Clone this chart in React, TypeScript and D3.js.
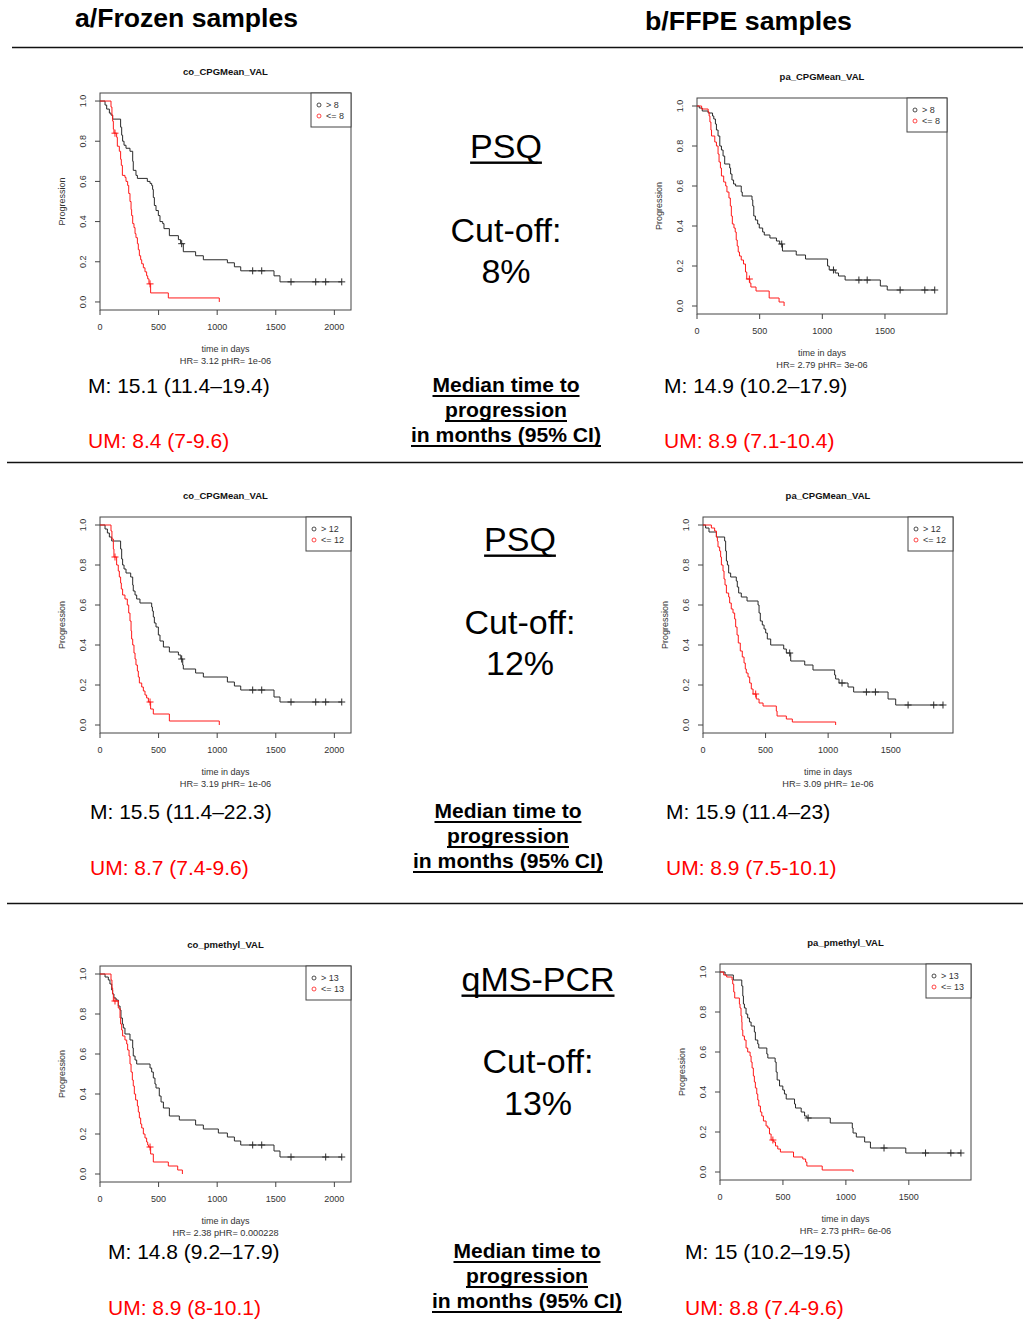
import React from "react";
import * as d3 from "d3";

type Pt = [number, number];

// ---------- Data: step drops [day, survival] and censor marks ----------
// Panel a / PSQ cut-off 8 (frozen)
const p1High: Pt[] = [[43,0.98],[57,0.96],[80,0.94],[94,0.93],[108,0.91],[176,0.87],[185,0.83],[193,0.80],[205,0.78],[222,0.765],[256,0.75],[279,0.70],[284,0.655],[307,0.63],[319,0.615],[404,0.60],[427,0.59],[441,0.58],[449,0.56],[455,0.52],[464,0.48],[478,0.455],[498,0.43],[512,0.40],[535,0.39],[546,0.365],[592,0.33],[669,0.31],[688,0.29],[711,0.25],[816,0.23],[882,0.21],[1087,0.195],[1147,0.175],[1201,0.155],[1485,0.13],[1536,0.10]];
const p1HighCens: Pt[] = [[697,0.29],[1303,0.155],[1380,0.155],[1630,0.10],[1841,0.10],[1926,0.10],[2063,0.10]];
const p1Low: Pt[] = [[94,0.97],[102,0.93],[108,0.90],[114,0.86],[119,0.84],[142,0.82],[148,0.775],[165,0.75],[176,0.71],[182,0.68],[191,0.63],[213,0.62],[222,0.60],[236,0.58],[245,0.54],[256,0.50],[265,0.46],[270,0.43],[279,0.39],[290,0.37],[299,0.34],[307,0.32],[319,0.29],[327,0.26],[336,0.23],[347,0.21],[356,0.19],[370,0.17],[384,0.15],[398,0.13],[407,0.115],[418,0.09],[432,0.045],[583,0.02],[1018,0.0]];
const p1LowCens: Pt[] = [[128,0.84],[427,0.09]];

// Panel b / PSQ cut-off 8 (FFPE)
const p2High: Pt[] = [[18,0.99],[42,0.975],[89,0.965],[124,0.95],[134,0.935],[147,0.91],[155,0.88],[168,0.85],[182,0.80],[195,0.78],[208,0.75],[221,0.71],[261,0.69],[268,0.66],[279,0.63],[292,0.61],[308,0.60],[353,0.57],[361,0.55],[439,0.53],[445,0.50],[453,0.45],[466,0.43],[484,0.41],[497,0.39],[524,0.37],[537,0.355],[582,0.34],[634,0.325],[660,0.31],[682,0.275],[792,0.255],[866,0.235],[1042,0.20],[1055,0.18],[1103,0.165],[1129,0.15],[1182,0.13],[1463,0.10],[1518,0.08]];
const p2HighCens: Pt[] = [[676,0.31],[1089,0.18],[1292,0.13],[1358,0.13],[1621,0.08],[1818,0.08],[1897,0.08]];
const p2Low: Pt[] = [[37,0.985],[89,0.97],[97,0.95],[103,0.92],[111,0.88],[116,0.85],[142,0.82],[155,0.80],[168,0.76],[176,0.72],[187,0.69],[195,0.65],[213,0.62],[229,0.60],[239,0.57],[255,0.54],[266,0.50],[274,0.45],[282,0.41],[295,0.39],[305,0.37],[313,0.33],[321,0.30],[329,0.27],[339,0.25],[353,0.23],[371,0.21],[387,0.17],[397,0.135],[421,0.115],[430,0.095],[471,0.075],[576,0.04],[655,0.02],[695,0.0]];
const p2LowCens: Pt[] = [[418,0.135]];

// Panel a / PSQ cut-off 12 (frozen)
const p3High: Pt[] = [[43,0.98],[63,0.96],[80,0.94],[100,0.92],[176,0.88],[185,0.83],[193,0.80],[205,0.78],[222,0.76],[262,0.74],[279,0.70],[284,0.67],[299,0.65],[313,0.63],[341,0.61],[441,0.59],[447,0.57],[455,0.54],[464,0.51],[478,0.49],[498,0.45],[512,0.42],[541,0.39],[592,0.365],[669,0.35],[690,0.33],[706,0.30],[711,0.28],[816,0.26],[882,0.24],[1087,0.215],[1147,0.195],[1201,0.175],[1485,0.14],[1536,0.115]];
const p3HighCens: Pt[] = [[697,0.33],[1303,0.175],[1380,0.175],[1630,0.115],[1841,0.115],[1926,0.115],[2063,0.115]];
const p3Low: Pt[] = [[94,0.97],[102,0.93],[114,0.88],[119,0.84],[142,0.80],[156,0.77],[165,0.74],[176,0.71],[182,0.68],[193,0.65],[213,0.63],[233,0.60],[245,0.56],[256,0.52],[265,0.47],[270,0.43],[279,0.40],[290,0.36],[299,0.33],[307,0.30],[319,0.27],[327,0.24],[336,0.21],[356,0.19],[370,0.17],[384,0.15],[398,0.135],[413,0.115],[432,0.08],[455,0.055],[592,0.02],[1018,0.0]];
const p3LowCens: Pt[] = [[128,0.84],[427,0.115]];

// Panel b / PSQ cut-off 12 (FFPE)
const p4High: Pt[] = [[21,0.985],[48,0.965],[107,0.94],[173,0.92],[181,0.87],[187,0.82],[195,0.80],[205,0.76],[221,0.74],[266,0.72],[274,0.69],[285,0.66],[306,0.64],[352,0.62],[440,0.60],[448,0.56],[458,0.52],[474,0.50],[488,0.48],[501,0.46],[514,0.43],[541,0.40],[645,0.38],[666,0.36],[701,0.32],[813,0.30],[879,0.275],[1052,0.25],[1060,0.23],[1087,0.21],[1159,0.19],[1204,0.165],[1479,0.13],[1540,0.10]];
const p4HighCens: Pt[] = [[693,0.36],[1111,0.21],[1306,0.165],[1378,0.165],[1639,0.10],[1844,0.10],[1918,0.10]];
const p4Low: Pt[] = [[67,0.985],[93,0.97],[107,0.94],[115,0.92],[120,0.89],[133,0.87],[141,0.84],[147,0.80],[160,0.77],[168,0.73],[176,0.70],[187,0.66],[205,0.64],[213,0.61],[226,0.58],[240,0.56],[253,0.53],[261,0.49],[272,0.45],[282,0.41],[298,0.37],[314,0.34],[328,0.31],[338,0.28],[346,0.26],[360,0.24],[373,0.21],[386,0.18],[400,0.155],[426,0.13],[448,0.11],[480,0.095],[586,0.07],[592,0.045],[666,0.03],[714,0.015],[1060,0.0]];
const p4LowCens: Pt[] = [[421,0.155]];

// Panel a / qMS-PCR cut-off 13 (frozen)
const p5High: Pt[] = [[43,0.985],[71,0.97],[85,0.95],[100,0.92],[108,0.90],[119,0.88],[137,0.87],[156,0.84],[171,0.82],[179,0.78],[191,0.75],[199,0.73],[213,0.70],[256,0.67],[279,0.63],[284,0.59],[299,0.57],[313,0.55],[427,0.53],[441,0.51],[455,0.48],[469,0.45],[478,0.43],[506,0.39],[521,0.36],[541,0.33],[592,0.29],[677,0.27],[816,0.245],[882,0.225],[1010,0.205],[1087,0.185],[1147,0.165],[1201,0.145],[1485,0.115],[1536,0.085]];
const p5HighCens: Pt[] = [[1303,0.145],[1380,0.145],[1630,0.085],[1926,0.085],[2063,0.085]];
const p5Low: Pt[] = [[94,0.97],[102,0.93],[108,0.90],[114,0.865],[156,0.83],[171,0.78],[176,0.75],[185,0.72],[193,0.69],[213,0.67],[228,0.65],[236,0.62],[248,0.59],[256,0.55],[265,0.51],[276,0.47],[284,0.44],[293,0.40],[304,0.37],[319,0.34],[327,0.31],[336,0.28],[347,0.25],[356,0.23],[370,0.20],[384,0.18],[398,0.16],[407,0.145],[415,0.135],[432,0.10],[455,0.06],[583,0.04],[663,0.02],[703,0.0]];
const p5LowCens: Pt[] = [[128,0.865],[427,0.135]];

// Panel b / qMS-PCR cut-off 13 (FFPE)
const p6High: Pt[] = [[40,0.985],[106,0.96],[173,0.93],[181,0.88],[186,0.84],[194,0.82],[207,0.79],[220,0.77],[234,0.75],[247,0.73],[273,0.70],[281,0.66],[300,0.64],[308,0.62],[372,0.59],[380,0.57],[438,0.55],[446,0.50],[454,0.46],[473,0.43],[499,0.41],[512,0.39],[526,0.365],[592,0.34],[600,0.32],[645,0.30],[672,0.28],[690,0.27],[876,0.245],[1051,0.22],[1057,0.195],[1083,0.175],[1149,0.15],[1195,0.12],[1476,0.095]];
const p6HighCens: Pt[] = [[700,0.27],[1303,0.12],[1633,0.095],[1834,0.095],[1914,0.095]];
const p6Low: Pt[] = [[29,0.985],[53,0.975],[96,0.96],[101,0.94],[109,0.90],[117,0.87],[154,0.84],[159,0.82],[167,0.78],[173,0.75],[175,0.71],[181,0.68],[194,0.66],[207,0.62],[220,0.60],[239,0.58],[247,0.55],[255,0.52],[265,0.48],[273,0.45],[281,0.42],[292,0.39],[300,0.36],[308,0.33],[321,0.30],[332,0.28],[345,0.255],[366,0.23],[380,0.22],[393,0.19],[406,0.16],[427,0.15],[441,0.13],[459,0.115],[480,0.10],[584,0.075],[658,0.065],[680,0.05],[690,0.03],[812,0.01],[1057,0.0]];
const p6LowCens: Pt[] = [[420,0.16]];

const yTicks = [0, 0.2, 0.4, 0.6, 0.8, 1.0];
const xTicksFrozen = [0, 500, 1000, 1500, 2000];
const xTicksFfpe = [0, 500, 1000, 1500];

const columnTitles = ["a/Frozen samples", "b/FFPE samples"];
const methods = ["PSQ", "PSQ", "qMS-PCR"];
const cutoffs = ["8%", "12%", "13%"];
const medianLabel = ["Median time to", "progression", "in months (95% CI)"];
const mFrozen = ["M: 15.1 (11.4\u201319.4)", "M: 15.5 (11.4\u201322.3)", "M: 14.8 (9.2\u201317.9)"];
const umFrozen = ["UM: 8.4 (7-9.6)", "UM: 8.7 (7.4-9.6)", "UM: 8.9 (8-10.1)"];
const mFfpe = ["M: 14.9 (10.2\u201317.9)", "M: 15.9 (11.4\u201323)", "M: 15 (10.2\u201319.5)"];
const umFfpe = ["UM: 8.9 (7.1-10.4)", "UM: 8.9 (7.5-10.1)", "UM: 8.8 (7.4-9.6)"];

// ---------- Layout ----------
const panels = [
  { title: "co_CPGMean_VAL", cut: "8", hr: "HR= 3.12  pHR= 1e-06", left: 100, right: 351, top: 93, bottom: 310, xMax: 2142, ticks: xTicksFrozen, high: p1High, highC: p1HighCens, low: p1Low, lowC: p1LowCens },
  { title: "pa_CPGMean_VAL", cut: "8", hr: "HR= 2.79  pHR= 3e-06", left: 697, right: 947, top: 98, bottom: 314, xMax: 1995, ticks: xTicksFfpe, high: p2High, highC: p2HighCens, low: p2Low, lowC: p2LowCens },
  { title: "co_CPGMean_VAL", cut: "12", hr: "HR= 3.19  pHR= 1e-06", left: 100, right: 351, top: 517, bottom: 733, xMax: 2142, ticks: xTicksFrozen, high: p3High, highC: p3HighCens, low: p3Low, lowC: p3LowCens },
  { title: "pa_CPGMean_VAL", cut: "12", hr: "HR= 3.09  pHR= 1e-06", left: 703, right: 953, top: 517, bottom: 733, xMax: 1998, ticks: xTicksFfpe, high: p4High, highC: p4HighCens, low: p4Low, lowC: p4LowCens },
  { title: "co_pmethyl_VAL", cut: "13", hr: "HR= 2.38  pHR= 0.000228", left: 100, right: 351, top: 966, bottom: 1182, xMax: 2142, ticks: xTicksFrozen, high: p5High, highC: p5HighCens, low: p5Low, lowC: p5LowCens },
  { title: "pa_pmethyl_VAL", cut: "13", hr: "HR= 2.73  pHR= 6e-06", left: 720, right: 971, top: 964, bottom: 1180, xMax: 1994, ticks: xTicksFfpe, high: p6High, highC: p6HighCens, low: p6Low, lowC: p6LowCens },
];

const sections = [
  { mid: 506, midMed: 506, method: 158, cut1: 242, cut2: 283, med: 392, mLeft: 88, mRight: 664, mY: 393, umY: 448 },
  { mid: 520, midMed: 508, method: 551, cut1: 634, cut2: 675, med: 818, mLeft: 90, mRight: 666, mY: 819, umY: 875 },
  { mid: 538, midMed: 527, method: 991, cut1: 1073, cut2: 1115, med: 1258, mLeft: 108, mRight: 685, mY: 1259, umY: 1315 },
];
const medianWidths = [147, 122, 190];

const FONT = "'Liberation Sans', Arial, Helvetica, sans-serif";
const AXIS_COL = "#444";
const TXT_COL = "#333";
const BLACK_LINE = "#2a2a2a";
const RED_LINE = "#ff1a1a";

let measureCtx: CanvasRenderingContext2D | null = null;
function measure(text: string, size: number, weight: string) {
  if (!measureCtx) measureCtx = document.createElement("canvas").getContext("2d");
  if (!measureCtx) return text.length * size * 0.55;
  measureCtx.font = `${weight} ${size}px 'Liberation Sans', Arial, sans-serif`;
  return measureCtx.measureText(text).width;
}

function KMPanel({ p }: { p: any }) {
  const x = d3.scaleLinear().domain([0, p.xMax]).range([p.left, p.right]);
  const y = d3.scaleLinear().domain([-0.04, 1.04]).range([p.bottom, p.top]);
  const line = d3.line<Pt>().x(d => x(d[0])).y(d => y(d[1])).curve(d3.curveStepAfter);
  const build = (drops: Pt[], cens: Pt[]): Pt[] => {
    const last = drops[drops.length - 1];
    const end = Math.max(last[0], cens.length ? cens[cens.length - 1][0] : 0);
    return [[0, 1], ...drops, [end, last[1]]];
  };
  const cx = (p.left + p.right) / 2;
  const cy = (y(0) + y(1)) / 2;
  const legW = p.cut.length > 1 ? 45 : 40;
  const legL = p.right - legW;
  const cross = (c: Pt, col: string, i: number) => (
    <g key={i} stroke={col} strokeWidth={1}>
      <line x1={x(c[0]) - 3.5} x2={x(c[0]) + 3.5} y1={y(c[1])} y2={y(c[1])} />
      <line x1={x(c[0])} x2={x(c[0])} y1={y(c[1]) - 3.5} y2={y(c[1]) + 3.5} />
    </g>
  );
  return (
    <g fontFamily={FONT}>
      <text x={cx} y={p.top - 18} textAnchor="middle" fontSize={9.5} fontWeight="bold" fill="#111">{p.title}</text>
      <rect x={p.left} y={p.top} width={p.right - p.left} height={p.bottom - p.top} fill="none" stroke={AXIS_COL} strokeWidth={1} />
      {p.ticks.map((t: number) => (
        <g key={"x" + t}>
          <line x1={x(t)} x2={x(t)} y1={p.bottom} y2={p.bottom + 5} stroke={AXIS_COL} />
          <text x={x(t)} y={p.bottom + 20} textAnchor="middle" fontSize={9} fill={TXT_COL}>{t}</text>
        </g>
      ))}
      {yTicks.map(t => (
        <g key={"y" + t}>
          <line x1={p.left - 5} x2={p.left} y1={y(t)} y2={y(t)} stroke={AXIS_COL} />
          <text transform={`translate(${p.left - 14.5},${y(t)}) rotate(-90)`} textAnchor="middle" fontSize={9} fill={TXT_COL}>{t.toFixed(1)}</text>
        </g>
      ))}
      <text transform={`translate(${p.left - 35},${cy}) rotate(-90)`} textAnchor="middle" fontSize={9} fill={TXT_COL}>Progression</text>
      <text x={cx} y={p.bottom + 42} textAnchor="middle" fontSize={9} fill={TXT_COL}>time in days</text>
      <text x={cx} y={p.bottom + 54} textAnchor="middle" fontSize={9.2} fill={TXT_COL}>{p.hr}</text>
      <path d={line(build(p.high, p.highC)) || ""} fill="none" stroke={BLACK_LINE} strokeWidth={1} />
      <path d={line(build(p.low, p.lowC)) || ""} fill="none" stroke={RED_LINE} strokeWidth={1} />
      {p.highC.map((c: Pt, i: number) => cross(c, BLACK_LINE, i))}
      {p.lowC.map((c: Pt, i: number) => cross(c, RED_LINE, i + 100))}
      <rect x={legL} y={p.top} width={legW} height={34} fill="white" stroke={AXIS_COL} strokeWidth={1} />
      <circle cx={legL + 8} cy={p.top + 12} r={2} fill="none" stroke="#222" strokeWidth={0.8} />
      <text x={legL + 15} y={p.top + 15} fontSize={9} fill={TXT_COL}>{"> " + p.cut}</text>
      <circle cx={legL + 8} cy={p.top + 23} r={2} fill="none" stroke={RED_LINE} strokeWidth={0.8} />
      <text x={legL + 15} y={p.top + 26} fontSize={9} fill={TXT_COL}>{"<= " + p.cut}</text>
    </g>
  );
}

function UText({ x, y, text, size, weight, width, gap, thick }: any) {
  const w = width ?? measure(text, size, weight);
  return (
    <g>
      <text x={x} y={y} textAnchor="middle" fontSize={size} fontWeight={weight}
        {...(width ? { textLength: width, lengthAdjust: "spacingAndGlyphs" } : {})}>{text}</text>
      <rect x={x - w / 2} y={y + gap} width={w} height={thick} fill="#000" />
    </g>
  );
}

export default function App() {
  return (
    <svg width={1023} height={1341} style={{ position: "absolute", left: 0, top: 0, background: "white" }} fontFamily={FONT}>
      <rect x={0} y={0} width={1023} height={1341} fill="white" />
      <text x={75} y={27} fontSize={26} fontWeight="bold" textLength={223} lengthAdjust="spacingAndGlyphs">{columnTitles[0]}</text>
      <text x={645} y={30} fontSize={26} fontWeight="bold" textLength={207} lengthAdjust="spacingAndGlyphs">{columnTitles[1]}</text>
      <line x1={12} x2={1023} y1={47.5} y2={47.5} stroke="#111" strokeWidth={1.3} />
      <line x1={7} x2={1023} y1={462.5} y2={462.5} stroke="#111" strokeWidth={1.3} />
      <line x1={7} x2={1023} y1={903.5} y2={903.5} stroke="#111" strokeWidth={1.3} />
      {panels.map((p, i) => <KMPanel key={i} p={p} />)}
      {sections.map((s, i) => (
        <g key={"s" + i}>
          <UText x={s.mid} y={s.method} text={methods[i]} size={34} weight="normal" gap={3.5} thick={2.4} />
          <text x={s.mid} y={s.cut1} textAnchor="middle" fontSize={34}>Cut-off:</text>
          <text x={s.mid} y={s.cut2} textAnchor="middle" fontSize={34}>{cutoffs[i]}</text>
          {medianLabel.map((t, j) => (
            <UText key={j} x={s.midMed} y={s.med + j * 25} text={t} size={20} weight="bold" width={medianWidths[j]} gap={3} thick={2} />
          ))}
          <text x={s.mLeft} y={s.mY} fontSize={21}>{mFrozen[i]}</text>
          <text x={s.mLeft} y={s.umY} fontSize={21} fill="#ff0000">{umFrozen[i]}</text>
          <text x={s.mRight} y={s.mY} fontSize={21}>{mFfpe[i]}</text>
          <text x={s.mRight} y={s.umY} fontSize={21} fill="#ff0000">{umFfpe[i]}</text>
        </g>
      ))}
    </svg>
  );
}
